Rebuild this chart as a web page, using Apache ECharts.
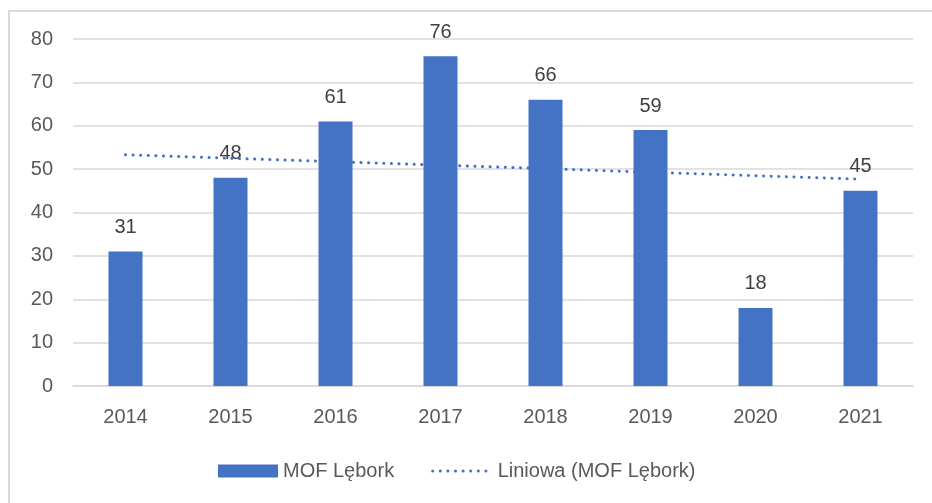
<!DOCTYPE html>
<html>
<head>
<meta charset="utf-8">
<script src="https://cdn.jsdelivr.net/npm/echarts@6/dist/echarts.min.js"></script>
<style>
  html, body { margin: 0; padding: 0; background: #fff; }
  #main { width: 932px; height: 503px; }
</style>
</head>
<body>
<div id="main"></div>
<script>
// dane
const years = ['2014', '2015', '2016', '2017', '2018', '2019', '2020', '2021']
const values = [31, 48, 61, 76, 66, 59, 18, 45]
// linia trendu - tylko punkty koncowe, reszta laczona prosta
const trend = [53.3, null, null, null, null, null, null, 47.7]
const barName = 'MOF Lębork'
const trendName = 'Liniowa (MOF Lębork)'

const font = 'Liberation Sans'
const blue = '#4472C4'
const dotted = { color: blue, width: 3, type: [0.1, 7.5], cap: 'round' }

const myChart = echarts.init(document.getElementById('main'))
const option = {
  backgroundColor: '#ffffff',
  animation: false,
  textStyle: { fontFamily: font },
  graphic: [
    {
      type: 'polyline',
      shape: { points: [[9, 503], [9, 11], [932, 11]] },
      style: { stroke: '#d9d9d9', lineWidth: 2, fill: null }
    }
  ],
  grid: { left: 73, right: 19, top: 39, bottom: 117 },
  legend: {
    left: 213,
    top: 456,
    itemWidth: 60,
    itemHeight: 13,
    itemGap: 37,
    textStyle: { fontSize: 20, color: '#595959', fontFamily: font },
    data: [
      { name: barName, icon: 'rect' },
      { name: trendName, itemStyle: { opacity: 0 }, lineStyle: dotted }
    ]
  },
  xAxis: {
    type: 'category',
    data: years,
    axisTick: { show: false },
    axisLine: { lineStyle: { color: '#d9d9d9', width: 1.5 } },
    axisLabel: { color: '#595959', fontSize: 20, margin: 21, fontFamily: font }
  },
  yAxis: {
    type: 'value',
    min: 0,
    max: 80,
    interval: 10,
    axisLine: { show: false },
    axisTick: { show: false },
    splitLine: { lineStyle: { color: '#d9d9d9', width: 1.5 } },
    axisLabel: { color: '#595959', fontSize: 20, margin: 20, fontFamily: font }
  },
  series: [
    {
      name: barName,
      type: 'bar',
      data: values,
      barWidth: 34,
      itemStyle: { color: blue },
      label: {
        show: true,
        position: 'top',
        distance: 14,
        color: '#404040',
        fontSize: 20,
        fontFamily: font
      }
    },
    {
      name: trendName,
      type: 'line',
      data: trend,
      connectNulls: true,
      symbol: 'none',
      lineStyle: dotted,
      itemStyle: { color: blue },
      z: 3
    }
  ]
}
myChart.setOption(option)
</script>
</body>
</html>
